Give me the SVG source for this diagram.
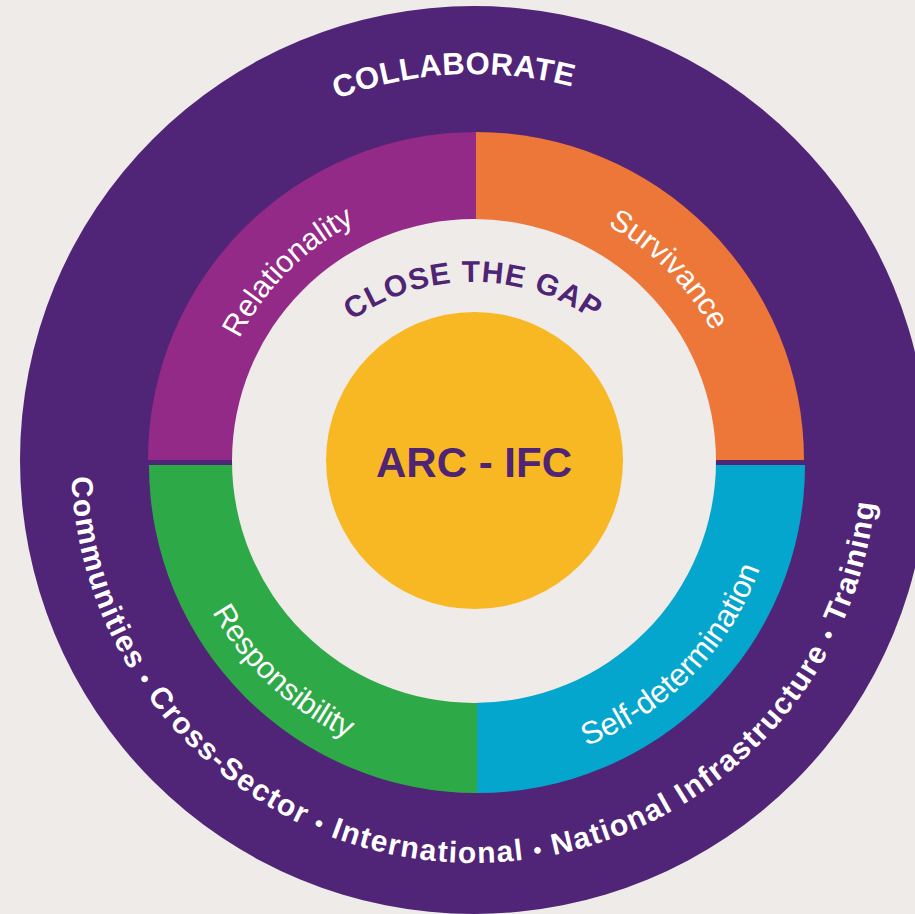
<svg xmlns="http://www.w3.org/2000/svg" xmlns:xlink="http://www.w3.org/1999/xlink" width="915" height="914" viewBox="0 0 915 914">
<style>
.lbl{font-family:"Liberation Sans",Arial,sans-serif;fill:#fff;font-size:30px}
.bold{font-weight:bold}
.purple{fill:#4f2474}
.dot{font-size:23px}
</style>
<defs>
<path id="pCollab" d="M130,284.8 A386,386 0 0 1 797.7,249.8"/>
<path id="pClose" d="M277.5,418.9 A208,208 0 0 1 668.5,418.9"/>
<path id="pRel" d="M210,460 A266,266 0 0 1 476,194"/>
<path id="pSurv" d="M476,191 A269,269 0 0 1 745,460"/>
<path id="pResp" d="M174,465 A302,302 0 0 0 476,767"/>
<path id="pSelf" d="M476,767 A302,302 0 0 0 778,465"/>
<path id="pBottom" d="M79.4,377.9 A403,403 0 1 0 872.8,402.2"/>
</defs>
<rect width="915" height="914" fill="#eeebe8"/>
<g id="outer-ring">
<circle cx="474" cy="460" r="454" fill="#502476"/>
<text class="lbl bold" style="font-size:31px;letter-spacing:0.4px"><textPath xlink:href="#pCollab" href="#pCollab" startOffset="50%" text-anchor="middle">COLLABORATE</textPath></text>
<text class="lbl bold" style="letter-spacing:1.4px"><textPath xlink:href="#pBottom" href="#pBottom" startOffset="50%" text-anchor="middle">Communities <tspan class="dot">•</tspan> Cross-Sector <tspan class="dot">•</tspan> International <tspan class="dot">•</tspan> National Infrastructure <tspan class="dot">•</tspan> Training</textPath></text>
</g>
<g id="relationality">
<path d="M476,460 L148,460 A328,328 0 0 1 476,132 Z" fill="#932a87"/>
<text class="lbl" style="font-size:30.5px"><textPath xlink:href="#pRel" href="#pRel" startOffset="50%" text-anchor="middle">Relationality</textPath></text>
</g>
<g id="survivance">
<path d="M476,460 L476,132 A328,328 0 0 1 804,460 Z" fill="#ed7639"/>
<text class="lbl" style="font-size:30.5px"><textPath xlink:href="#pSurv" href="#pSurv" startOffset="50.4%" text-anchor="middle">Survivance</textPath></text>
</g>
<g id="responsibility">
<path d="M477,465 L477,793 A328,328 0 0 1 149,465 Z" fill="#2ea948"/>
</g>
<g id="self-determination">
<path d="M477,465 L805,465 A328,328 0 0 1 477,793 Z" fill="#05a6cd"/>
</g>
<g id="close-the-gap">
<circle cx="474" cy="461" r="242" fill="#eeebe8"/>
<text class="lbl bold purple" style="font-size:30px;letter-spacing:1px"><textPath xlink:href="#pClose" href="#pClose" startOffset="50%" text-anchor="middle">CLOSE THE GAP</textPath></text>
</g>
<g id="ring-labels-bottom">
<text class="lbl" style="font-size:30.5px"><textPath xlink:href="#pResp" href="#pResp" startOffset="52.2%" text-anchor="middle">Responsibility</textPath></text>
<text class="lbl" style="font-size:31.5px"><textPath xlink:href="#pSelf" href="#pSelf" startOffset="50.8%" text-anchor="middle">Self-determination</textPath></text>
</g>
<g id="arc-ifc">
<circle cx="474.5" cy="460.5" r="148.5" fill="#f8b823"/>
<text x="474" y="477" text-anchor="middle" class="lbl bold purple" style="font-size:42px">ARC - IFC</text>
</g>
</svg>
